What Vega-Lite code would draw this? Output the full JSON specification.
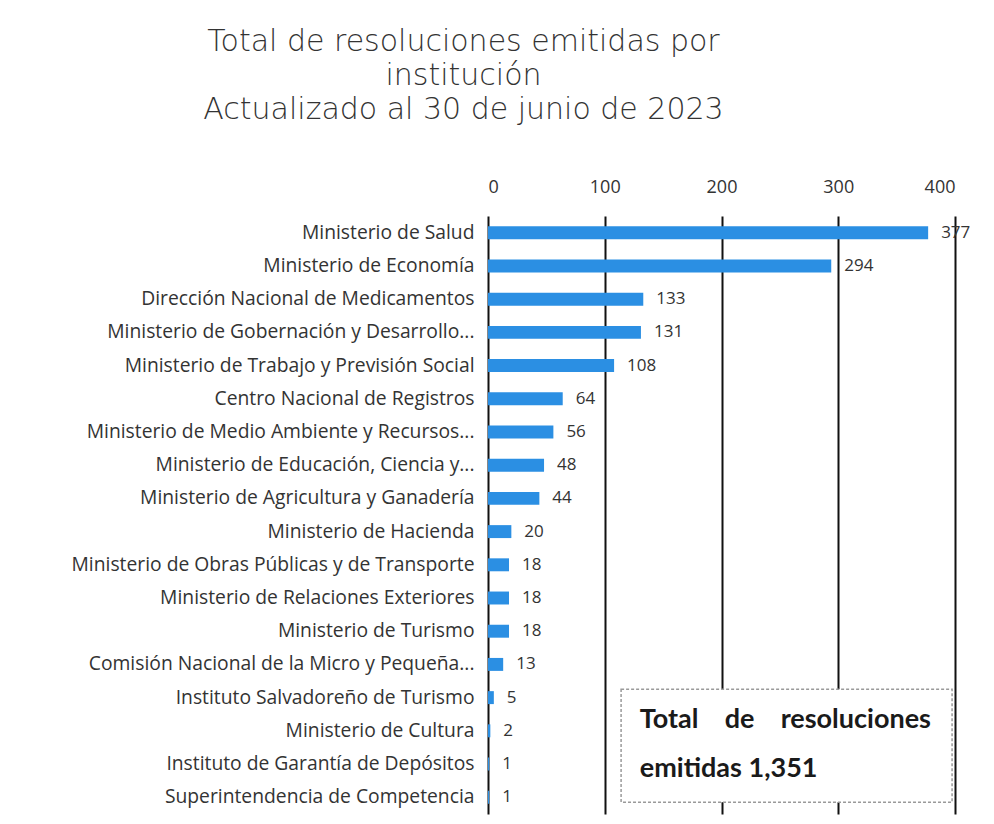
{
  "$schema": "https://vega.github.io/schema/vega-lite/v6.json",
  "autosize": {"type": "none"},
  "padding": {"left": 488, "top": 216, "right": 39, "bottom": 10},
  "width": 467,
  "height": 598,
  "background": "white",
  "title": {
    "text": ["Total de resoluciones emitidas por", "institución", "Actualizado al 30 de junio de 2023"],
    "font": "DejaVu Sans",
    "fontWeight": 200,
    "fontSize": 30,
    "lineHeight": 34,
    "color": "#333333",
    "anchor": "middle",
    "frame": "group",
    "dx": -258,
    "offset": 53
  },
  "config": {
    "view": {"stroke": null},
    "font": "Open Sans",
    "axis": {"labelFont": "Open Sans", "labelColor": "#333333"}
  },
  "data": {
    "values": [
      {"institucion": "Ministerio de Salud", "total": 377},
      {"institucion": "Ministerio de Economía", "total": 294},
      {"institucion": "Dirección Nacional de Medicamentos", "total": 133},
      {"institucion": "Ministerio de Gobernación y Desarrollo...", "total": 131},
      {"institucion": "Ministerio de Trabajo y Previsión Social", "total": 108},
      {"institucion": "Centro Nacional de Registros", "total": 64},
      {"institucion": "Ministerio de Medio Ambiente y Recursos...", "total": 56},
      {"institucion": "Ministerio de Educación, Ciencia y...", "total": 48},
      {"institucion": "Ministerio de Agricultura y Ganadería", "total": 44},
      {"institucion": "Ministerio de Hacienda", "total": 20},
      {"institucion": "Ministerio de Obras Públicas y de Transporte", "total": 18},
      {"institucion": "Ministerio de Relaciones Exteriores", "total": 18},
      {"institucion": "Ministerio de Turismo", "total": 18},
      {"institucion": "Comisión Nacional de la Micro y Pequeña...", "total": 13},
      {"institucion": "Instituto Salvadoreño de Turismo", "total": 5},
      {"institucion": "Ministerio de Cultura", "total": 2},
      {"institucion": "Instituto de Garantía de Depósitos", "total": 1},
      {"institucion": "Superintendencia de Competencia", "total": 1}
    ]
  },
  "layer": [
    {
      "mark": {"type": "bar", "color": "#2B8FE3"},
      "encoding": {
        "y": {
          "field": "institucion",
          "type": "nominal",
          "sort": null,
          "title": null,
          "scale": {"paddingInner": 0.61, "paddingOuter": 0.31},
          "axis": {"ticks": false, "domain": false, "labelFontSize": 19.3, "labelPadding": 14, "labelLimit": 0, "grid": false}
        },
        "x": {
          "field": "total",
          "type": "quantitative",
          "title": null,
          "scale": {"domain": [0, 400], "nice": false},
          "axis": {
            "orient": "top",
            "values": [0, 100, 200, 300, 400],
            "ticks": false,
            "domain": false,
            "labelFontSize": 18,
            "labelPadding": 20,
            "grid": true,
            "gridColor": "#111111",
            "gridWidth": 2,
            "gridOpacity": 1
          }
        }
      }
    },
    {
      "mark": {"type": "text", "align": "left", "baseline": "middle", "dx": 13, "fontSize": 17, "color": "#333333", "font": "Open Sans"},
      "encoding": {
        "y": {"field": "institucion", "type": "nominal", "sort": null},
        "x": {"field": "total", "type": "quantitative"},
        "text": {"field": "total", "type": "quantitative", "format": "d"}
      }
    },
    {
      "data": {"values": [{"nota": "recuadro"}]},
      "mark": {"type": "rect", "fill": "white", "stroke": "#9a9a9a", "strokeWidth": 1.5, "strokeDash": [3, 2]},
      "encoding": {
        "x": {"datum": 114, "type": "quantitative"},
        "x2": {"datum": 397.5},
        "y": {"datum": "Instituto Salvadoreño de Turismo", "type": "nominal", "bandPosition": -0.15},
        "y2": {"datum": "Superintendencia de Competencia", "bandPosition": 0.88}
      }
    },
    {
      "data": {"values": [{"linea": "Total\u00a0\u00a0\u00a0 de\u00a0\u00a0\u00a0 resoluciones"}]},
      "mark": {"type": "text", "align": "left", "baseline": "middle", "fontSize": 27, "fontWeight": "bold", "color": "#1a1a1a", "font": "Lato", "dy": -11},
      "encoding": {
        "x": {"datum": 130, "type": "quantitative"},
        "y": {"datum": "Ministerio de Cultura", "type": "nominal"},
        "text": {"field": "linea", "type": "nominal"}
      }
    },
    {
      "data": {"values": [{"linea": "emitidas 1,351"}]},
      "mark": {"type": "text", "align": "left", "baseline": "middle", "fontSize": 27, "fontWeight": "bold", "color": "#1a1a1a", "font": "Lato", "dy": 5},
      "encoding": {
        "x": {"datum": 130, "type": "quantitative"},
        "y": {"datum": "Instituto de Garantía de Depósitos", "type": "nominal", "bandPosition": 0.5},
        "text": {"field": "linea", "type": "nominal"}
      }
    }
  ]
}
